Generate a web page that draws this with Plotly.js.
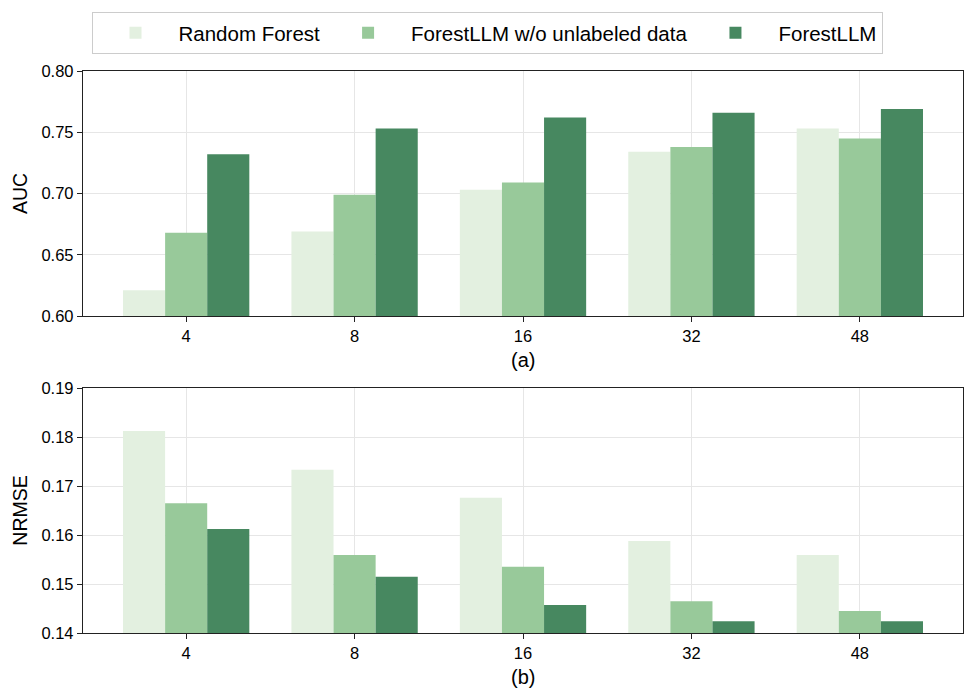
<!DOCTYPE html>
<html>
<head>
<meta charset="utf-8">
<script src="https://cdn.plot.ly/plotly-3.0.1.min.js"></script>
<style>html,body{margin:0;padding:0;background:#fff;}#chart{width:976px;height:700px;}</style>
</head>
<body>
<div id="chart"></div>
<script>
const categories = ["4", "8", "16", "32", "48"];
const seriesNames = ["Random Forest", "ForestLLM w/o unlabeled data", "ForestLLM"];
const aucRF = [0.621, 0.669, 0.703, 0.734, 0.753];
const aucNoUnlabeled = [0.668, 0.699, 0.709, 0.738, 0.745];
const aucForestLLM = [0.732, 0.753, 0.762, 0.766, 0.769];
const nrmseRF = [0.1812, 0.1733, 0.1676, 0.1588, 0.1559];
const nrmseNoUnlabeled = [0.1665, 0.1559, 0.1535, 0.1465, 0.1445];
const nrmseForestLLM = [0.1612, 0.1515, 0.1457, 0.1424, 0.1424];
const colors = ["#e3f0e0", "#98c99a", "#478860"];

const font = "Liberation Sans, Arial, Helvetica, sans-serif";

function mk(y, i, xa, ya, show) {
  return {
    type: "bar", x: categories, y: y, name: seriesNames[i],
    xaxis: xa, yaxis: ya, showlegend: show,
    marker: {color: colors[i], line: {width: 0}},
    legendgroup: "g" + i
  };
}

const traces = [
  mk(aucRF, 0, "x", "y", true),
  mk(aucNoUnlabeled, 1, "x", "y", true),
  mk(aucForestLLM, 2, "x", "y", true),
  mk(nrmseRF, 0, "x2", "y2", false),
  mk(nrmseNoUnlabeled, 1, "x2", "y2", false),
  mk(nrmseForestLLM, 2, "x2", "y2", false)
];

const axBase = {
  showline: true, linecolor: "#222", linewidth: 1.2, mirror: true,
  ticks: "outside", ticklen: 5, tickcolor: "#222", tickwidth: 1,
  showgrid: true, gridcolor: "#e6e6e6", gridwidth: 1,
  tickfont: {family: font, size: 16.5, color: "#000"},
  zeroline: false
};

const H = 562;
const layout = {
  width: 976, height: 700,
  margin: {l: 83, r: 13, t: 71, b: 67},
  paper_bgcolor: "#fff", plot_bgcolor: "#fff",
  barmode: "group", bargap: 0.25, bargroupgap: 0,
  font: {family: font, color: "#000"},
  xaxis: Object.assign({}, axBase, {type: "category", range: [-0.6125, 4.6125], anchor: "y", domain: [0, 1]}),
  yaxis: Object.assign({}, axBase, {range: [0.60, 0.80], dtick: 0.05, tickformat: ".2f",
    domain: [(633 - 316) / H, 1], anchor: "x",
    title: {text: "AUC", font: {family: font, size: 19.5, color: "#000"}, standoff: 8}}),
  xaxis2: Object.assign({}, axBase, {type: "category", range: [-0.6125, 4.6125], anchor: "y2", domain: [0, 1]}),
  yaxis2: Object.assign({}, axBase, {range: [0.14, 0.19], dtick: 0.01, tickformat: ".2f",
    domain: [0, (633 - 388) / H], anchor: "x2",
    title: {text: "NRMSE", font: {family: font, size: 19.5, color: "#000"}, standoff: 8}}),
  legend: {
    orientation: "h", x: (487 - 83) / 880, xanchor: "center", y: (633 - 12) / H, yanchor: "top",
    bordercolor: "#cccccc", borderwidth: 1, bgcolor: "#fff",
    font: {family: font, size: 20.5, color: "#000"},
    itemwidth: 76, traceorder: "normal"
  },
  annotations: [
    {text: "(a)", xref: "paper", yref: "paper", x: 0.5, y: (633 - 360) / H, showarrow: false,
     font: {family: font, size: 20, color: "#000"}, xanchor: "center", yanchor: "middle"},
    {text: "(b)", xref: "paper", yref: "paper", x: 0.5, y: (633 - 677) / H, showarrow: false,
     font: {family: font, size: 20, color: "#000"}, xanchor: "center", yanchor: "middle"}
  ]
};

Plotly.newPlot("chart", traces, layout, {displayModeBar: false, staticPlot: true});
</script>
</body>
</html>
